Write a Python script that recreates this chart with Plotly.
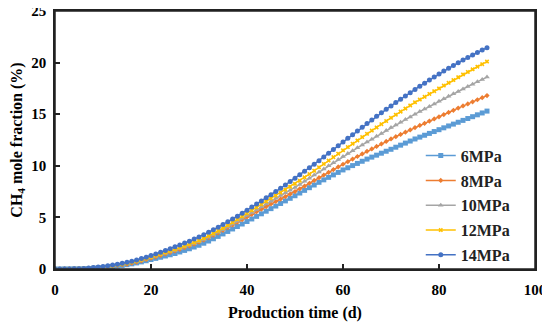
import plotly.graph_objects as go

days = list(range(0, 91))

p6 = [0, 0, 0.01, 0.01, 0.02, 0.02,
      0.03, 0.05, 0.08, 0.11, 0.15,
      0.19, 0.24, 0.29, 0.35, 0.42,
      0.5, 0.59, 0.69, 0.8, 0.92,
      1.03, 1.14, 1.26, 1.38, 1.5,
      1.65, 1.8, 1.96, 2.13, 2.3,
      2.5, 2.71, 2.93, 3.16, 3.4,
      3.64, 3.88, 4.12, 4.36, 4.6,
      4.85, 5.1, 5.35, 5.6, 5.85,
      6.1, 6.35, 6.6, 6.85, 7.1,
      7.36, 7.62, 7.88, 8.14, 8.4,
      8.64, 8.88, 9.12, 9.36, 9.6,
      9.81, 10.02, 10.23, 10.44, 10.65,
      10.84, 11.03, 11.22, 11.41, 11.6,
      11.8, 12.0, 12.2, 12.4, 12.6,
      12.78, 12.96, 13.14, 13.32, 13.5,
      13.68, 13.86, 14.04, 14.22, 14.4,
      14.58, 14.76, 14.94, 15.12, 15.3]

p8 = [0, 0, 0.01, 0.01, 0.02, 0.02,
      0.04, 0.06, 0.09, 0.13, 0.17,
      0.22, 0.28, 0.34, 0.41, 0.48,
      0.57, 0.67, 0.79, 0.92, 1.05,
      1.18, 1.32, 1.46, 1.6, 1.75,
      1.91, 2.07, 2.24, 2.42, 2.6,
      2.82, 3.04, 3.27, 3.51, 3.75,
      4.01, 4.27, 4.53, 4.79, 5.05,
      5.3, 5.55, 5.8, 6.05, 6.3,
      6.54, 6.78, 7.02, 7.26, 7.5,
      7.77, 8.04, 8.31, 8.58, 8.85,
      9.11, 9.37, 9.63, 9.89, 10.15,
      10.4, 10.65, 10.9, 11.15, 11.4,
      11.64, 11.88, 12.12, 12.36, 12.6,
      12.82, 13.04, 13.26, 13.48, 13.7,
      13.91, 14.12, 14.33, 14.54, 14.75,
      14.96, 15.17, 15.38, 15.59, 15.8,
      16.0, 16.2, 16.4, 16.6, 16.8]

p10 = [0, 0, 0.01, 0.01, 0.02, 0.02,
       0.04, 0.06, 0.1, 0.14, 0.18,
       0.23, 0.29, 0.35, 0.42, 0.5,
       0.6, 0.71, 0.83, 0.96, 1.1,
       1.23, 1.37, 1.51, 1.65, 1.8,
       1.96, 2.12, 2.29, 2.47, 2.65,
       2.86, 3.08, 3.31, 3.55, 3.8,
       4.07, 4.35, 4.63, 4.91, 5.2,
       5.48, 5.76, 6.04, 6.32, 6.6,
       6.86, 7.12, 7.38, 7.64, 7.9,
       8.2, 8.5, 8.8, 9.1, 9.4,
       9.7, 10.0, 10.3, 10.6, 10.9,
       11.18, 11.46, 11.74, 12.02, 12.3,
       12.58, 12.86, 13.14, 13.42, 13.7,
       13.96, 14.22, 14.48, 14.74, 15.0,
       15.25, 15.5, 15.75, 16.0, 16.25,
       16.49, 16.73, 16.97, 17.21, 17.45,
       17.68, 17.91, 18.14, 18.37, 18.6]

p12 = [0, 0, 0.01, 0.01, 0.02, 0.02,
       0.04, 0.07, 0.11, 0.15, 0.2,
       0.26, 0.32, 0.39, 0.47, 0.55,
       0.65, 0.76, 0.88, 1.01, 1.15,
       1.29, 1.44, 1.59, 1.74, 1.9,
       2.06, 2.22, 2.39, 2.57, 2.75,
       2.97, 3.2, 3.44, 3.69, 3.95,
       4.23, 4.52, 4.81, 5.1, 5.4,
       5.69, 5.98, 6.27, 6.56, 6.85,
       7.13, 7.41, 7.69, 7.97, 8.25,
       8.56, 8.88, 9.2, 9.52, 9.85,
       10.18, 10.51, 10.84, 11.17, 11.5,
       11.82, 12.14, 12.46, 12.78, 13.1,
       13.41, 13.72, 14.03, 14.34, 14.65,
       14.95, 15.25, 15.55, 15.85, 16.15,
       16.42, 16.69, 16.96, 17.23, 17.5,
       17.77, 18.04, 18.31, 18.58, 18.85,
       19.1, 19.35, 19.6, 19.85, 20.1]

p14 = [0, 0, 0.01, 0.01, 0.02, 0.03,
       0.06, 0.1, 0.14, 0.19, 0.25,
       0.32, 0.39, 0.47, 0.56, 0.65,
       0.76, 0.88, 1.01, 1.15, 1.3,
       1.46, 1.62, 1.79, 1.97, 2.15,
       2.33, 2.51, 2.7, 2.9, 3.1,
       3.33, 3.56, 3.8, 4.05, 4.3,
       4.57, 4.84, 5.12, 5.41, 5.7,
       6.0, 6.3, 6.6, 6.9, 7.2,
       7.51, 7.82, 8.14, 8.47, 8.8,
       9.14, 9.48, 9.82, 10.16, 10.5,
       10.86, 11.22, 11.58, 11.94, 12.3,
       12.66, 13.02, 13.38, 13.74, 14.1,
       14.45, 14.79, 15.13, 15.47, 15.8,
       16.13, 16.45, 16.77, 17.09, 17.4,
       17.71, 18.01, 18.31, 18.61, 18.9,
       19.18, 19.45, 19.72, 19.99, 20.25,
       20.5, 20.74, 20.98, 21.22, 21.45]

series_names = ["6MPa", "8MPa", "10MPa", "12MPa", "14MPa"]
series_values = [p6, p8, p10, p12, p14]
colors = ["#5B9BD5", "#ED7D31", "#A5A5A5", "#FFC000", "#4472C4"]
symbols = ["square", "diamond", "triangle-up", "x", "circle"]
sizes = [5, 4, 5, 4, 5]

x_ticks = [0, 20, 40, 60, 80, 100]
y_ticks = [0, 5, 10, 15, 20, 25]

font_family = "Liberation Serif"

fig = go.Figure()
for name, vals, c, s, sz in zip(series_names, series_values, colors, symbols, sizes):
    fig.add_trace(go.Scatter(
        x=days, y=vals, name=name, mode="lines+markers",
        line=dict(color=c, width=1.5),
        marker=dict(color=c, symbol=s, size=sz, line=dict(width=0, color=c)),
        legendgroup=name,
    ))

# plot-area frame
fig.add_shape(type="rect", xref="paper", yref="paper", x0=0, y0=0, x1=1, y1=1,
              line=dict(color="#222222", width=1.5), layer="above")

fig.update_layout(
    width=542, height=318,
    margin=dict(l=47, r=15, t=3, b=57, autoexpand=False),
    paper_bgcolor="white", plot_bgcolor="white",
    font=dict(family=font_family, size=15, color="black"),
    showlegend=True,
    legend=dict(
        x=0.762, y=0.505, xanchor="left", yanchor="top",
        bgcolor="rgba(0,0,0,0)",
        font=dict(family=font_family, size=16, color="#222222", weight="bold"),
        tracegroupgap=1,
        itemwidth=30,
    ),
    xaxis=dict(
        range=[0, 100], tickvals=x_ticks, ticktext=[str(v) for v in x_ticks],
        showgrid=False, zeroline=False, automargin=False,
        showline=True, linecolor="#222222", linewidth=1.5, mirror=True,
        ticks="inside", ticklen=5, tickwidth=1.5, tickcolor="#222222",
        ticklabeloverflow="allow", ticklabelstandoff=6,
        tickfont=dict(family=font_family, size=15, weight="bold"),
        title=dict(text="<b>Production time (d)</b>", font=dict(family=font_family, size=16), standoff=10),
    ),
    yaxis=dict(
        range=[0, 25], tickvals=y_ticks, ticktext=[str(v) for v in y_ticks],
        showgrid=False, zeroline=False, automargin=False,
        showline=True, linecolor="#222222", linewidth=1.5, mirror=True,
        ticks="inside", ticklen=5, tickwidth=1.5, tickcolor="#222222",
        ticklabeloverflow="allow", ticklabelstandoff=4,
        tickfont=dict(family=font_family, size=15, weight="bold"),
        title=dict(text="<b>CH<sub>4</sub> mole fraction (%)</b>", font=dict(family=font_family, size=16), standoff=6),
    ),
)

fig.write_html("out.html")
